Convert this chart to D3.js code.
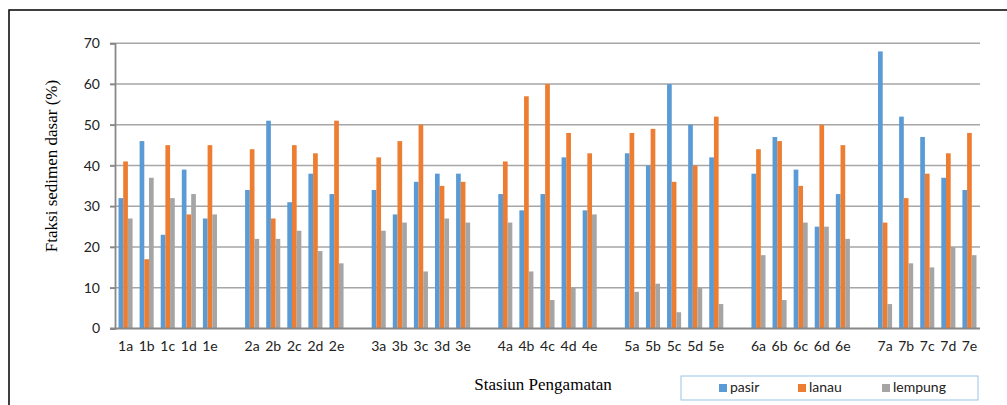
<!DOCTYPE html>
<html><head><meta charset="utf-8">
<script src="https://cdn.jsdelivr.net/npm/d3@7"></script>
<style>
html,body{margin:0;padding:0;background:#fff;}
svg{display:block;}
</style></head>
<body>
<svg id="chart" width="1007" height="405"></svg>
<script>
const stations = ["1a","1b","1c","1d","1e","2a","2b","2c","2d","2e","3a","3b","3c","3d","3e","4a","4b","4c","4d","4e","5a","5b","5c","5d","5e","6a","6b","6c","6d","6e","7a","7b","7c","7d","7e"];
const pasir   = [32,46,23,39,27, 34,51,31,38,33, 34,28,36,38,38, 33,29,33,42,29, 43,40,60,50,42, 38,47,39,25,33, 68,52,47,37,34];
const lanau   = [41,17,45,28,45, 44,27,45,43,51, 42,46,50,35,36, 41,57,60,48,43, 48,49,36,40,52, 44,46,35,50,45, 26,32,38,43,48];
const lempung = [27,37,32,33,28, 22,22,24,19,16, 24,26,14,27,26, 26,14,7,10,28, 9,11,4,10,6, 18,7,26,25,22, 6,16,15,20,18];
const seriesNames = ["pasir","lanau","lempung"];
const seriesColors = ["#5B9BD5","#ED7D31","#A5A5A5"];
const yTicks = [0,10,20,30,40,50,60,70];
const yTitle = "Ftaksi sedimen dasar (%)";
const xTitle = "Stasiun Pengamatan";

(function(){
const svg = d3.select("#chart");
const L = 115, R = 980, T = 43.3, B = 328.5;

const domain = [];
stations.forEach((s, i) => {
  domain.push(s);
  if (i % 5 === 4 && i < stations.length - 1) domain.push("gap" + i);
});
const x = d3.scaleBand().domain(domain).range([L, R]).padding(0);
const bw = x.bandwidth();
const xs = d3.scaleBand().domain(seriesNames).range([bw/6, bw*5/6]).padding(0);
const y = d3.scaleLinear().domain([0,70]).range([B, T]);

svg.append("rect").attr("x",9).attr("y",10).attr("width",1010).attr("height",410)
  .attr("fill","none").attr("stroke","#000").attr("stroke-width",1.5);

svg.append("g").selectAll("line").data(yTicks.filter(d=>d>0)).join("line")
  .attr("x1", L-5).attr("x2", R)
  .attr("y1", d=>y(d)).attr("y2", d=>y(d))
  .attr("stroke","#a6a6a6").attr("stroke-width",1.6);

const yAxis = d3.axisLeft(y).tickValues(yTicks).tickSize(5).tickPadding(10);
const gy = svg.append("g").attr("transform",`translate(${L},0)`).call(yAxis);
gy.select(".domain").attr("stroke","#888").attr("stroke-width",1.8);
gy.selectAll(".tick line").attr("stroke","#888").attr("stroke-width",1.6);
gy.selectAll(".tick text").attr("fill","#222").style("font-family","Lato").style("font-size","14px");

const data = stations.map((s,i)=>({s, v:[pasir[i],lanau[i],lempung[i]]}));
const gBars = svg.append("g");
data.forEach(d=>{
  gBars.selectAll(null).data(seriesNames.map((n,k)=>({n,k,v:d.v[k]}))).join("rect")
    .attr("x", e => x(d.s) + xs(e.n))
    .attr("width", xs.bandwidth())
    .attr("y", e => y(e.v))
    .attr("height", e => y(0) - y(e.v))
    .attr("fill", e => seriesColors[e.k]);
});

const xAxis = d3.axisBottom(x).tickValues(stations).tickSize(0).tickPadding(13);
const gx = svg.append("g").attr("transform",`translate(0,${B})`).call(xAxis);
gx.select(".domain").remove();
svg.append("line").attr("x1",L-5).attr("x2",R).attr("y1",B).attr("y2",B)
  .attr("stroke","#888").attr("stroke-width",2);
gx.selectAll(".tick text").attr("fill","#222").style("font-family","Lato").style("font-size","14px");

svg.append("text").attr("transform",`translate(53,166) rotate(-90)`)
  .attr("text-anchor","middle").attr("dominant-baseline","middle")
  .style("font-family","Liberation Serif").style("font-size","17px").attr("fill","#000").text(yTitle);
svg.append("text").attr("x",543).attr("y",390).attr("text-anchor","middle")
  .style("font-family","Liberation Serif").style("font-size","17px").attr("fill","#000").text(xTitle);

const lg = svg.append("g");
lg.append("rect").attr("x",681).attr("y",376).attr("width",297).attr("height",24)
  .attr("fill","#fff").attr("stroke","#9DC3E6").attr("stroke-width",1);
const legX = [719, 798, 882];
seriesNames.forEach((n,k)=>{
  lg.append("rect").attr("x",legX[k]).attr("y",384).attr("width",8).attr("height",8).attr("fill",seriesColors[k]);
  lg.append("text").attr("x",legX[k]+11).attr("y",388).attr("dominant-baseline","middle")
    .style("font-family","Lato").style("font-size","14px").attr("fill","#222").text(n);
});
})();
</script>
</body></html>
